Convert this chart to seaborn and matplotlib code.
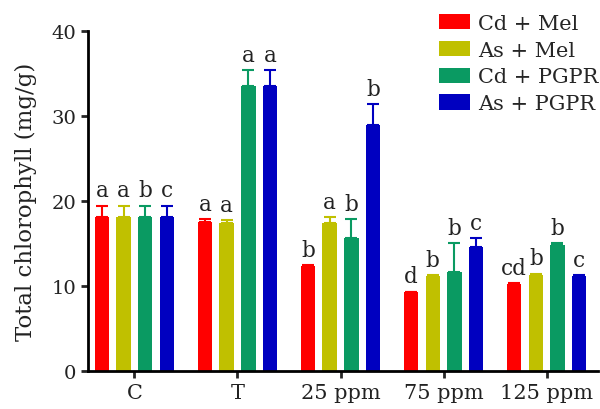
import numpy as np
import pandas as pd
import matplotlib
matplotlib.use("Agg")
import matplotlib.pyplot as plt
import seaborn as sns

groups = ["C", "T", "25 ppm", "75 ppm", "125 ppm"]
treatments = ["Cd + Mel", "As + Mel", "Cd + PGPR", "As + PGPR"]
colors = ["#FF0000", "#C0C000", "#0A9A62", "#0000C0"]

cd_mel = [18.1, 17.5, 12.4, 9.25, 10.2]
as_mel = [18.1, 17.4, 17.4, 11.2, 11.3]
cd_pgpr = [18.1, 33.5, 15.7, 11.6, 14.85]
as_pgpr = [18.1, 33.5, 28.9, 14.55, 11.2]

cd_mel_err = [1.35, 0.4, 0.1, 0.1, 0.15]
as_mel_err = [1.35, 0.4, 0.75, 0.12, 0.15]
cd_pgpr_err = [1.35, 1.9, 2.2, 3.4, 0.2]
as_pgpr_err = [1.35, 1.9, 2.5, 1.1, 0.12]

cd_mel_lab = ["a", "a", "b", "d", "cd"]
as_mel_lab = ["a", "a", "a", "b", "b"]
cd_pgpr_lab = ["b", "a", "b", "b", "b"]
as_pgpr_lab = ["c", "a", "b", "c", "c"]

values = [cd_mel, as_mel, cd_pgpr, as_pgpr]
errs = [cd_mel_err, as_mel_err, cd_pgpr_err, as_pgpr_err]
labs = [cd_mel_lab, as_mel_lab, cd_pgpr_lab, as_pgpr_lab]

rows = []
for t, vals in zip(treatments, values):
    for g, v in zip(groups, vals):
        rows.append({"group": g, "treatment": t, "value": v})
df = pd.DataFrame(rows)

sns.set_style("ticks")
plt.rcParams["font.family"] = ["DejaVu Serif"]
plt.rcParams["font.size"] = 15

fig = plt.figure(figsize=(6, 4.1), dpi=100)
ax = fig.add_axes([0.1467, 0.0927, 0.8503, 0.8293])

sns.barplot(data=df, x="group", y="value", hue="treatment", order=groups,
            hue_order=treatments, palette=colors, width=0.84, gap=0.33,
            errorbar=None, saturation=1, ax=ax, linewidth=0)

for cont, err, lab, col in zip(ax.containers, errs, labs, colors):
    for patch, e, l in zip(cont.patches, err, lab):
        xc = patch.get_x() + patch.get_width() / 2
        h = patch.get_height()
        ax.errorbar(xc, h, yerr=[[0], [e]], color=col, capsize=4, elinewidth=1.5,
                    capthick=1.5, fmt="none")
        ax.annotate(l, (xc, h + e), xytext=(0, 3), textcoords="offset points",
                    ha="center", va="bottom", fontsize=15.5, color="#222222")

ax.set_ylim(0, 40)
ax.set_xlim(-0.45, 4.5)
ax.set_yticks([0, 10, 20, 30, 40])
ax.set_xlabel("")
ax.set_ylabel("Total chlorophyll (mg/g)", fontsize=16.5, color="#222222", labelpad=10)
for s in ["top", "right"]:
    ax.spines[s].set_visible(False)
for s in ["left", "bottom"]:
    ax.spines[s].set_linewidth(2)
    ax.spines[s].set_color("black")
ax.tick_params(axis="both", direction="out", length=5, width=2,
               labelcolor="#222222")
ax.tick_params(axis="x", labelsize=15)
ax.tick_params(axis="y", labelsize=14)

handles, labels_ = ax.get_legend_handles_labels()
ax.legend(handles, labels_, frameon=False, loc="upper right",
          bbox_to_anchor=(1.022, 1.0), bbox_transform=fig.transFigure,
          fontsize=15, handlelength=1.5, handleheight=0.75, labelspacing=0.38,
          handletextpad=0.4, borderaxespad=0.3)

fig.savefig("out.png", dpi=100)
